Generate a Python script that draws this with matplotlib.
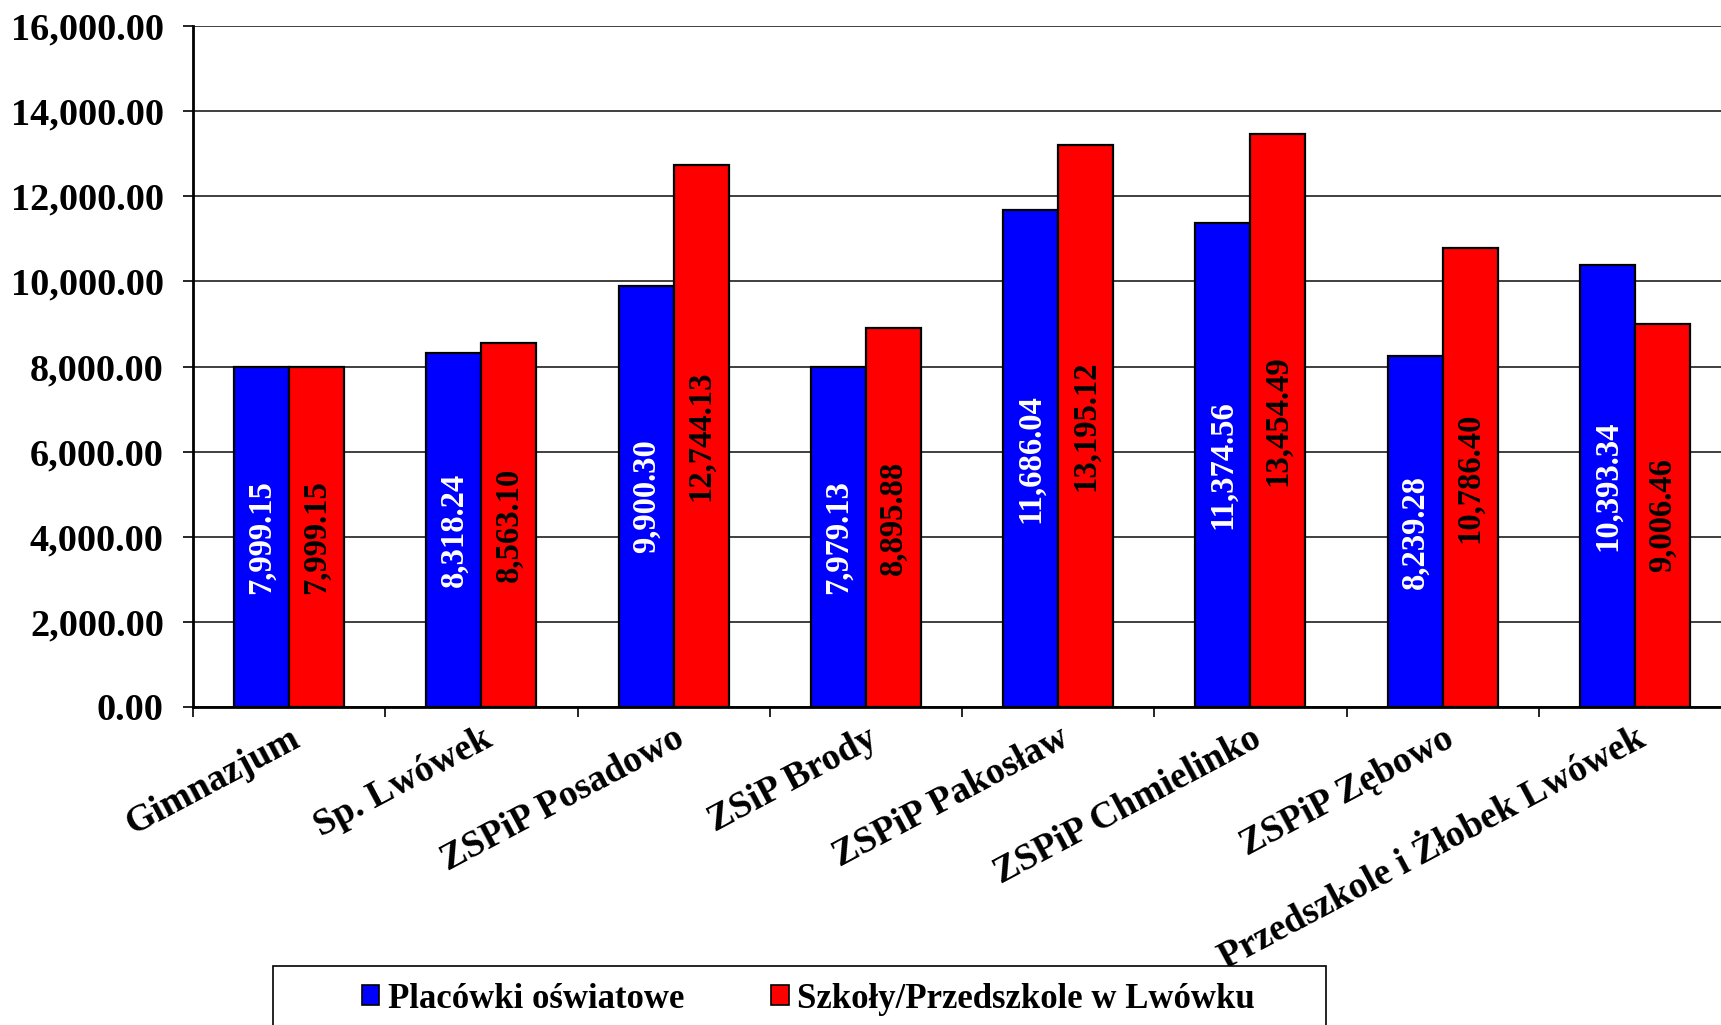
import numpy as np
import matplotlib
matplotlib.use('Agg')
import matplotlib.pyplot as plt
from matplotlib.patches import Patch, Rectangle

plt.rcParams['font.family'] = ['Liberation Serif', 'DejaVu Serif']
plt.rcParams['font.weight'] = 'bold'

# Dane
categories = ['Gimnazjum', 'Sp. Lwówek', 'ZSPiP Posadowo', 'ZSiP Brody',
              'ZSPiP Pakosław', 'ZSPiP Chmielinko', 'ZSPiP Zębowo',
              'Przedszkole i Żłobek Lwówek']
placowki = [7999.15, 8318.24, 9900.30, 7979.13, 11686.04, 11374.56, 8239.28, 10393.34]
szkoly = [7999.15, 8563.10, 12744.13, 8895.88, 13195.12, 13454.49, 10786.40, 9006.46]
series_names = ['Placówki oświatowe', 'Szkoły/Przedszkole w Lwówku']
y_ticks = [0, 2000, 4000, 6000, 8000, 10000, 12000, 14000, 16000]

W, H = 1721, 1025
fig = plt.figure(figsize=(W / 100, H / 100), dpi=100)
fig.patch.set_facecolor('white')

ax = fig.add_axes([193 / W, 1 - 707 / H, 1538 / W, 681 / H])

x = np.arange(len(categories))
bw = 0.2857
b1 = ax.bar(x - bw / 2, placowki, bw, color='#0000FF', edgecolor='black', linewidth=1.6, zorder=3)
b2 = ax.bar(x + bw / 2, szkoly, bw, color='#FF0000', edgecolor='black', linewidth=1.6, zorder=3)

fmt = lambda v: f'{v:,.2f}'
ax.bar_label(b1, labels=[fmt(v) for v in placowki], label_type='center', rotation=90,
             color='white', fontsize=23.5, fontweight='bold')
ax.bar_label(b2, labels=[fmt(v) for v in szkoly], label_type='center', rotation=90,
             color='black', fontsize=23.5, fontweight='bold')

ax.set_xlim(-0.5, len(categories) - 0.5)
ax.set_ylim(0, 16000)
ax.set_yticks(y_ticks)
ax.set_yticklabels([f'{v:,.2f}' for v in y_ticks], fontsize=27.5, fontweight='bold')
ax.yaxis.grid(True, color='#303030', linewidth=1.3, zorder=0)
ax.set_axisbelow(True)

ax.set_xticks(x)
ax.set_xticklabels(categories, rotation=28, ha='right', va='top', rotation_mode='anchor',
                   fontsize=27, fontweight='bold')
ax.set_xticks(np.arange(len(categories) + 1) - 0.5, minor=True)
ax.tick_params(axis='x', which='major', length=0, pad=10)
ax.tick_params(axis='x', which='minor', length=7, width=1.2, direction='out')
ax.tick_params(axis='y', length=7, width=1.2, direction='out', pad=14)

for s in ['top', 'right']:
    ax.spines[s].set_visible(False)
ax.spines['left'].set_linewidth(2)
ax.spines['bottom'].set_linewidth(2)

# Legenda
fig.patches.append(Rectangle((273 / W, -0.05), (1326 - 273) / W, 0.05 + 1 - 966 / H,
                             transform=fig.transFigure, facecolor='white',
                             edgecolor='black', linewidth=1.2))
handles = [Patch(facecolor='#0000FF', edgecolor='black', linewidth=1.2),
           Patch(facecolor='#FF0000', edgecolor='black', linewidth=1.2)]
fig.legend(handles, series_names, loc='center left', bbox_to_anchor=(362 / W, 1 - 999 / H),
           ncol=2, frameon=False, handlelength=0.5, handleheight=0.5,
           handletextpad=0.25, columnspacing=2.5, borderpad=0, borderaxespad=0,
           prop={'weight': 'bold', 'size': 25})

fig.savefig('out.png', dpi=100)
